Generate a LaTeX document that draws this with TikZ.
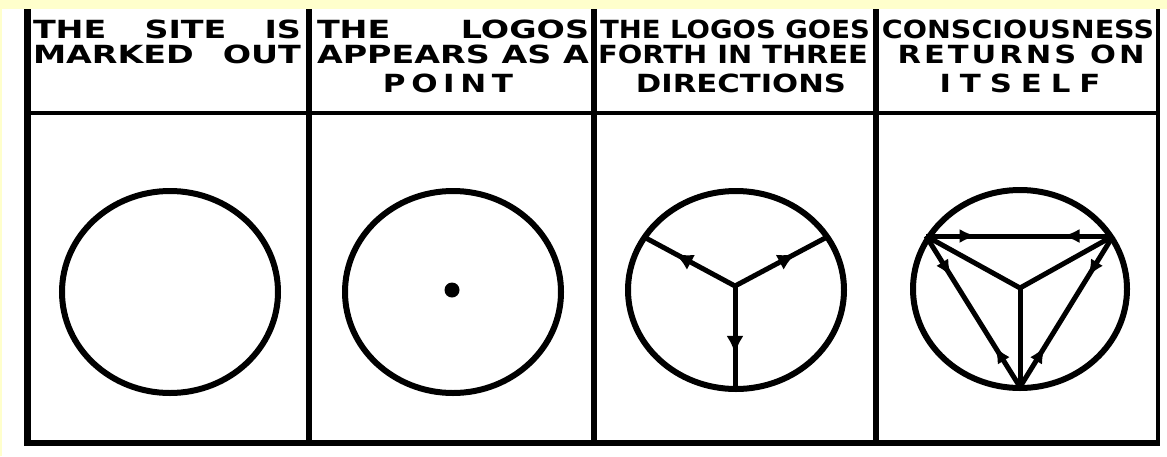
\documentclass[tikz,border=0pt]{standalone}
\usepackage{fontspec}
\usepackage{graphicx}
\usetikzlibrary{arrows.meta, decorations.markings}
\newfontfamily\hdfont{DejaVu Sans}
\definecolor{pagebg}{RGB}{255,255,204}
% heading line: widen the letters a little, stretch the word gaps to fill #1
\newlength\hdw
\newcommand\hdl[2]{\settowidth\hdw{#2}%
  \ifdim\dimexpr\hdw*4/3\relax<#1\relax
    \resizebox{#1}{\height}{\makebox[\dimexpr#1*3/4\relax][s]{#2}}%
  \else
    \resizebox{#1}{\height}{#2}%
  \fi}
\tikzset{
  hd/.style={font=\hdfont\bfseries\fontsize{25}{30}\selectfont, anchor=base, inner sep=0pt},
  rule/.style={line width=6pt},
  ring/.style={line width=6pt},
  spoke/.style={line width=5pt},
  outward/.style={postaction={decorate}, decoration={markings,
      mark=at position 0.66 with {\arrow{Latex[length=18pt,width=17pt]}}}},
  twoway/.style={postaction={decorate}, decoration={markings,
      mark=at position 0.27 with {\arrow{Latex[length=17pt,width=14pt]}},
      mark=at position 0.73 with {\arrowreversed{Latex[length=17pt,width=14pt]}}}}
}
\begin{document}
\begin{tikzpicture}[x=1pt, y=-1pt]
    \useasboundingbox (0,0) rectangle (1167,456);
    \fill[pagebg] (0,0) rectangle (1167,456);
    \fill[white] (2,9) rectangle (1167,456);
    % frame
    \draw[rule, line width=7pt] (27,9) -- (27,446);
    \foreach \x in {309,594,876}
        \draw[rule] (\x,9) -- (\x,446);
    \draw[rule, line width=4.5pt] (1158,9) -- (1158,446);
    \draw[rule, line width=4.5pt] (24,113) -- (1160,113);
    \draw[rule] (24,443) -- (1160,443);
    % headings
    \node[hd] (t1a) at (167,38) {\hdl{268pt}{THE SITE IS}};
    \node[hd] (t1b) at (167,63) {\hdl{268pt}{MARKED OUT}};
    \node[hd] (t2a) at (453,38) {\hdl{272pt}{THE LOGOS}};
    \node[hd] (t2b) at (453,63) {\hdl{272pt}{APPEARS AS A}};
    \node[hd] (t2c) at (448,92) {\hdl{130pt}{\addfontfeature{LetterSpace=18}POINT}};
    \node[hd] (t3a) at (735,38) {\hdl{270pt}{THE LOGOS GOES}};
    \node[hd] (t3b) at (733,63) {\hdl{270pt}{FORTH IN THREE}};
    \node[hd] (t3c) at (741,92) {\hdl{210pt}{DIRECTIONS}};
    \node[hd] (t4a) at (1018,38) {\hdl{272pt}{CONSCIOUSNESS}};
    \node[hd] (t4b) at (1021,63) {\hdl{247pt}{\addfontfeature{LetterSpace=10}RETURNS ON}};
    \node[hd] (t4c) at (1020,92) {\hdl{161pt}{\addfontfeature{LetterSpace=29}ITSELF}};
    % 1: the site
    \coordinate (c1) at (170,292);
    \draw[ring] (c1) ellipse [x radius=108, y radius=101];
    % 2: the point
    \coordinate (c2) at (453,292);
    \draw[ring] (c2) ellipse [x radius=108, y radius=101];
    \fill (452,290) circle (7.5);
    % 3: three directions
    \coordinate (c3) at (736,290);
    \draw[ring] (c3) ellipse [x radius=108, y radius=99];
    \coordinate (y0) at (735,286);
    \coordinate (yl) at (644,237);
    \coordinate (yr) at (827,237);
    \coordinate (yb) at (735,389);
    \draw[spoke, outward] (y0) -- (yl);
    \draw[spoke, outward] (y0) -- (yr);
    \draw[spoke, outward] (y0) -- (yb);
    % 4: returning on itself
    \coordinate (c4) at (1020,289);
    \draw[ring] (c4) ellipse [x radius=107, y radius=99];
    \coordinate (k0) at (1020,288);
    \coordinate (ktl) at (926,236);
    \coordinate (ktr) at (1113,236);
    \coordinate (kb) at (1020,387);
    \draw[spoke] (k0) -- (ktl);
    \draw[spoke] (k0) -- (ktr);
    \draw[spoke] (k0) -- (kb);
    \draw[spoke, twoway] (ktl) -- (ktr);
    \draw[spoke, twoway] (ktr) -- (kb);
    \draw[spoke, twoway] (kb) -- (ktl);
\end{tikzpicture}
\end{document}
